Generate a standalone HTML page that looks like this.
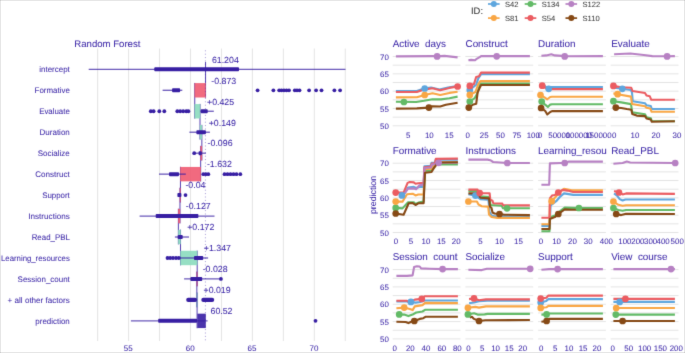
<!DOCTYPE html>
<html><head><meta charset="utf-8"><style>
html,body{margin:0;padding:0;background:#fff;}
body{width:685px;height:353px;overflow:hidden;}
svg{display:block;font-family:"Liberation Sans", sans-serif;}
text{stroke-width:0.05px;text-rendering:geometricPrecision;}
</style></head><body>
<svg width="685" height="353" viewBox="0 0 685 353">
<defs><filter id="bl" x="-2%" y="-2%" width="104%" height="104%" color-interpolation-filters="sRGB"><feConvolveMatrix order="3" kernelMatrix="0.0100 0.0800 0.0100 0.0800 0.6400 0.0800 0.0100 0.0800 0.0100" edgeMode="duplicate" preserveAlpha="true"/></filter></defs>
<rect width="685" height="353" fill="#fff"/>
<g filter="url(#bl)">
<rect width="685" height="353" fill="#fff"/>
<line x1="97.65" y1="48.5" x2="97.65" y2="341" stroke="#e4e4e4" stroke-width="1"/>
<line x1="128.60" y1="48.5" x2="128.60" y2="341" stroke="#e4e4e4" stroke-width="1"/>
<line x1="159.55" y1="48.5" x2="159.55" y2="341" stroke="#e4e4e4" stroke-width="1"/>
<line x1="190.50" y1="48.5" x2="190.50" y2="341" stroke="#e4e4e4" stroke-width="1"/>
<line x1="221.45" y1="48.5" x2="221.45" y2="341" stroke="#e4e4e4" stroke-width="1"/>
<line x1="252.40" y1="48.5" x2="252.40" y2="341" stroke="#e4e4e4" stroke-width="1"/>
<line x1="283.35" y1="48.5" x2="283.35" y2="341" stroke="#e4e4e4" stroke-width="1"/>
<line x1="314.30" y1="48.5" x2="314.30" y2="341" stroke="#e4e4e4" stroke-width="1"/>
<line x1="345.25" y1="48.5" x2="345.25" y2="341" stroke="#e4e4e4" stroke-width="1"/>
<text x="128.25" y="351.1" font-size="8" fill="#3d28a8" stroke="#3d28a8" text-anchor="middle">55</text>
<text x="190.15" y="351.1" font-size="8" fill="#3d28a8" stroke="#3d28a8" text-anchor="middle">60</text>
<text x="252.05" y="351.1" font-size="8" fill="#3d28a8" stroke="#3d28a8" text-anchor="middle">65</text>
<text x="313.95" y="351.1" font-size="8" fill="#3d28a8" stroke="#3d28a8" text-anchor="middle">70</text>
<text x="74.3" y="47" font-size="9.6" fill="#3d28a8" stroke="#3d28a8">Random Forest</text>
<text x="69.8" y="71.74" font-size="8.1" fill="#3d28a8" stroke="#3d28a8" text-anchor="end" textLength="30.56" lengthAdjust="spacingAndGlyphs">intercept</text>
<text x="69.8" y="92.78" font-size="8.1" fill="#3d28a8" stroke="#3d28a8" text-anchor="end" textLength="35.20" lengthAdjust="spacingAndGlyphs">Formative</text>
<text x="69.8" y="113.82" font-size="8.1" fill="#3d28a8" stroke="#3d28a8" text-anchor="end" textLength="30.67" lengthAdjust="spacingAndGlyphs">Evaluate</text>
<text x="69.8" y="134.86" font-size="8.1" fill="#3d28a8" stroke="#3d28a8" text-anchor="end" textLength="30.24" lengthAdjust="spacingAndGlyphs">Duration</text>
<text x="69.8" y="155.90" font-size="8.1" fill="#3d28a8" stroke="#3d28a8" text-anchor="end" textLength="32.02" lengthAdjust="spacingAndGlyphs">Socialize</text>
<text x="69.8" y="176.94" font-size="8.1" fill="#3d28a8" stroke="#3d28a8" text-anchor="end" textLength="34.57" lengthAdjust="spacingAndGlyphs">Construct</text>
<text x="69.8" y="197.98" font-size="8.1" fill="#3d28a8" stroke="#3d28a8" text-anchor="end" textLength="27.60" lengthAdjust="spacingAndGlyphs">Support</text>
<text x="69.8" y="219.02" font-size="8.1" fill="#3d28a8" stroke="#3d28a8" text-anchor="end" textLength="41.52" lengthAdjust="spacingAndGlyphs">Instructions</text>
<text x="69.8" y="240.06" font-size="8.1" fill="#3d28a8" stroke="#3d28a8" text-anchor="end" textLength="38.12" lengthAdjust="spacingAndGlyphs">Read_PBL</text>
<text x="69.8" y="261.10" font-size="8.1" fill="#3d28a8" stroke="#3d28a8" text-anchor="end" textLength="68.77" lengthAdjust="spacingAndGlyphs">Learning_resources</text>
<text x="69.8" y="282.14" font-size="8.1" fill="#3d28a8" stroke="#3d28a8" text-anchor="end" textLength="52.22" lengthAdjust="spacingAndGlyphs">Session_count</text>
<text x="69.8" y="303.18" font-size="8.1" fill="#3d28a8" stroke="#3d28a8" text-anchor="end" textLength="62.20" lengthAdjust="spacingAndGlyphs">+ all other factors</text>
<text x="69.8" y="324.22" font-size="8.1" fill="#3d28a8" stroke="#3d28a8" text-anchor="end" textLength="34.43" lengthAdjust="spacingAndGlyphs">prediction</text>
<line x1="205.56" y1="61.99" x2="205.56" y2="97.65" stroke="#371ea3" stroke-width="0.85"/>
<line x1="194.75" y1="82.95" x2="194.75" y2="118.61" stroke="#371ea3" stroke-width="0.85"/>
<line x1="200.01" y1="103.91" x2="200.01" y2="139.57" stroke="#371ea3" stroke-width="0.85"/>
<line x1="201.85" y1="124.87" x2="201.85" y2="160.53" stroke="#371ea3" stroke-width="0.85"/>
<line x1="200.67" y1="145.83" x2="200.67" y2="181.49" stroke="#371ea3" stroke-width="0.85"/>
<line x1="180.46" y1="166.79" x2="180.46" y2="202.45" stroke="#371ea3" stroke-width="0.85"/>
<line x1="179.97" y1="187.75" x2="179.97" y2="223.41" stroke="#371ea3" stroke-width="0.85"/>
<line x1="178.39" y1="208.71" x2="178.39" y2="244.37" stroke="#371ea3" stroke-width="0.85"/>
<line x1="180.52" y1="229.67" x2="180.52" y2="265.33" stroke="#371ea3" stroke-width="0.85"/>
<line x1="197.20" y1="250.63" x2="197.20" y2="286.29" stroke="#371ea3" stroke-width="0.85"/>
<line x1="196.85" y1="271.59" x2="196.85" y2="307.25" stroke="#371ea3" stroke-width="0.85"/>
<line x1="197.09" y1="292.55" x2="197.09" y2="328.21" stroke="#371ea3" stroke-width="0.85"/>
<rect x="194.50" y="83.10" width="11.31" height="14.4" fill="#f05a71" fill-opacity="0.9"/>
<rect x="194.50" y="104.06" width="5.76" height="14.4" fill="#8bdcbe" fill-opacity="0.9"/>
<rect x="199.76" y="125.02" width="2.34" height="14.4" fill="#8bdcbe" fill-opacity="0.9"/>
<rect x="200.42" y="145.98" width="1.69" height="14.4" fill="#f05a71" fill-opacity="0.9"/>
<rect x="180.21" y="166.94" width="20.70" height="14.4" fill="#f05a71" fill-opacity="0.9"/>
<rect x="179.72" y="187.90" width="1.00" height="14.4" fill="#f05a71" fill-opacity="0.9"/>
<rect x="178.14" y="208.86" width="2.07" height="14.4" fill="#f05a71" fill-opacity="0.9"/>
<rect x="178.14" y="229.82" width="2.63" height="14.4" fill="#8bdcbe" fill-opacity="0.9"/>
<rect x="180.27" y="250.78" width="17.18" height="14.4" fill="#8bdcbe" fill-opacity="0.9"/>
<rect x="196.60" y="271.74" width="0.85" height="14.4" fill="#f05a71" fill-opacity="0.9"/>
<rect x="196.60" y="292.70" width="0.74" height="14.4" fill="#8bdcbe" fill-opacity="0.9"/>
<rect x="197.34" y="313.66" width="8.47" height="14.4" fill="#371ea3" fill-opacity="0.9"/>
<line x1="205.41" y1="50.3" x2="205.41" y2="342" stroke="#371ea3" stroke-opacity="0.45" stroke-width="1" stroke-dasharray="1 2.4"/>
<text x="211.90" y="62.64" font-size="8.8" fill="#3d28a8" stroke="#3d28a8">61.204</text>
<text x="211.30" y="83.60" font-size="8.8" fill="#3d28a8" stroke="#3d28a8">-0.873</text>
<text x="207.00" y="104.56" font-size="8.8" fill="#3d28a8" stroke="#3d28a8">+0.425</text>
<text x="208.70" y="125.52" font-size="8.8" fill="#3d28a8" stroke="#3d28a8">+0.149</text>
<text x="207.60" y="146.48" font-size="8.8" fill="#3d28a8" stroke="#3d28a8">-0.096</text>
<text x="206.90" y="167.44" font-size="8.8" fill="#3d28a8" stroke="#3d28a8">-1.632</text>
<text x="185.40" y="188.40" font-size="8.8" fill="#3d28a8" stroke="#3d28a8">-0.04</text>
<text x="185.80" y="209.36" font-size="8.8" fill="#3d28a8" stroke="#3d28a8">-0.127</text>
<text x="187.20" y="230.32" font-size="8.8" fill="#3d28a8" stroke="#3d28a8">+0.172</text>
<text x="203.80" y="251.28" font-size="8.8" fill="#3d28a8" stroke="#3d28a8">+1.347</text>
<text x="202.70" y="272.24" font-size="8.8" fill="#3d28a8" stroke="#3d28a8">-0.028</text>
<text x="203.50" y="293.20" font-size="8.8" fill="#3d28a8" stroke="#3d28a8">+0.019</text>
<text x="210.50" y="314.16" font-size="8.8" fill="#3d28a8" stroke="#3d28a8">60.52</text>
<line x1="88.7" y1="69.34" x2="345.5" y2="69.34" stroke="#371ea3" stroke-opacity="0.75" stroke-width="1.3"/>
<rect x="154.3" y="67.34" width="84.70" height="4.0" rx="0.8" fill="#371ea3"/>
<line x1="162.6" y1="90.30" x2="182.3" y2="90.30" stroke="#371ea3" stroke-opacity="0.75" stroke-width="1.3"/>
<rect x="172.1" y="88.30" width="8.00" height="4.0" rx="0.8" fill="#371ea3"/>
<circle cx="257.6" cy="90.30" r="1.9" fill="#371ea3"/>
<circle cx="273.4" cy="90.30" r="1.9" fill="#371ea3"/>
<circle cx="279.2" cy="90.30" r="1.9" fill="#371ea3"/>
<circle cx="281.5" cy="90.30" r="1.9" fill="#371ea3"/>
<circle cx="284" cy="90.30" r="1.9" fill="#371ea3"/>
<circle cx="286.5" cy="90.30" r="1.9" fill="#371ea3"/>
<circle cx="289" cy="90.30" r="1.9" fill="#371ea3"/>
<circle cx="294.8" cy="90.30" r="1.9" fill="#371ea3"/>
<circle cx="297" cy="90.30" r="1.9" fill="#371ea3"/>
<circle cx="299.5" cy="90.30" r="1.9" fill="#371ea3"/>
<circle cx="309.1" cy="90.30" r="1.9" fill="#371ea3"/>
<circle cx="316.1" cy="90.30" r="1.9" fill="#371ea3"/>
<circle cx="321.5" cy="90.30" r="1.9" fill="#371ea3"/>
<circle cx="334.4" cy="90.30" r="1.9" fill="#371ea3"/>
<circle cx="340.1" cy="90.30" r="1.9" fill="#371ea3"/>
<line x1="200.5" y1="111.26" x2="213.8" y2="111.26" stroke="#371ea3" stroke-opacity="0.75" stroke-width="1.3"/>
<rect x="200.7" y="109.26" width="7.00" height="4.0" rx="0.8" fill="#371ea3"/>
<circle cx="150.8" cy="111.26" r="1.9" fill="#371ea3"/>
<circle cx="153.6" cy="111.26" r="1.9" fill="#371ea3"/>
<circle cx="159.3" cy="111.26" r="1.9" fill="#371ea3"/>
<circle cx="164.3" cy="111.26" r="1.9" fill="#371ea3"/>
<circle cx="177.3" cy="111.26" r="1.9" fill="#371ea3"/>
<circle cx="180.2" cy="111.26" r="1.9" fill="#371ea3"/>
<circle cx="183.2" cy="111.26" r="1.9" fill="#371ea3"/>
<circle cx="186.3" cy="111.26" r="1.9" fill="#371ea3"/>
<circle cx="188.4" cy="111.26" r="1.9" fill="#371ea3"/>
<line x1="189.4" y1="132.22" x2="209.9" y2="132.22" stroke="#371ea3" stroke-opacity="0.75" stroke-width="1.3"/>
<rect x="196.4" y="130.22" width="9.50" height="4.0" rx="0.8" fill="#371ea3"/>
<line x1="194.2" y1="153.18" x2="205.9" y2="153.18" stroke="#371ea3" stroke-opacity="0.75" stroke-width="1.3"/>
<rect x="198.6" y="151.18" width="3.20" height="4.0" rx="0.8" fill="#371ea3"/>
<circle cx="194.2" cy="153.18" r="1.9" fill="#371ea3"/>
<line x1="159.0" y1="174.14" x2="185.8" y2="174.14" stroke="#371ea3" stroke-opacity="0.75" stroke-width="1.3"/>
<rect x="169.0" y="172.14" width="10.00" height="4.0" rx="0.8" fill="#371ea3"/>
<circle cx="203.3" cy="174.14" r="1.9" fill="#371ea3"/>
<circle cx="205.8" cy="174.14" r="1.9" fill="#371ea3"/>
<circle cx="208.3" cy="174.14" r="1.9" fill="#371ea3"/>
<circle cx="224.5" cy="174.14" r="1.9" fill="#371ea3"/>
<circle cx="227.5" cy="174.14" r="1.9" fill="#371ea3"/>
<circle cx="230.5" cy="174.14" r="1.9" fill="#371ea3"/>
<circle cx="233.5" cy="174.14" r="1.9" fill="#371ea3"/>
<circle cx="236.5" cy="174.14" r="1.9" fill="#371ea3"/>
<circle cx="240.3" cy="174.14" r="1.9" fill="#371ea3"/>
<rect x="177.4" y="193.10" width="4.00" height="4.0" rx="0.8" fill="#371ea3"/>
<circle cx="185.5" cy="195.10" r="1.9" fill="#371ea3"/>
<line x1="139.6" y1="216.06" x2="214.5" y2="216.06" stroke="#371ea3" stroke-opacity="0.75" stroke-width="1.3"/>
<rect x="155.7" y="214.06" width="42.70" height="4.0" rx="0.8" fill="#371ea3"/>
<line x1="174.9" y1="237.02" x2="189.0" y2="237.02" stroke="#371ea3" stroke-opacity="0.75" stroke-width="1.3"/>
<rect x="177.7" y="235.02" width="5.00" height="4.0" rx="0.8" fill="#371ea3"/>
<line x1="179.8" y1="257.98" x2="208.1" y2="257.98" stroke="#371ea3" stroke-opacity="0.75" stroke-width="1.3"/>
<rect x="194.0" y="255.98" width="9.20" height="4.0" rx="0.8" fill="#371ea3"/>
<circle cx="167.5" cy="257.98" r="1.9" fill="#371ea3"/>
<circle cx="170.2" cy="257.98" r="1.9" fill="#371ea3"/>
<circle cx="173.0" cy="257.98" r="1.9" fill="#371ea3"/>
<circle cx="176.0" cy="257.98" r="1.9" fill="#371ea3"/>
<circle cx="178.8" cy="257.98" r="1.9" fill="#371ea3"/>
<line x1="184.1" y1="278.94" x2="219.5" y2="278.94" stroke="#371ea3" stroke-opacity="0.75" stroke-width="1.3"/>
<rect x="190.4" y="276.94" width="11.80" height="4.0" rx="0.8" fill="#371ea3"/>
<circle cx="220.9" cy="278.94" r="1.9" fill="#371ea3"/>
<rect x="186.2" y="297.80" width="10.9" height="4.2" rx="2" fill="#371ea3"/>
<rect x="201.3" y="297.80" width="12.9" height="4.2" rx="2" fill="#371ea3"/>
<line x1="130.9" y1="320.86" x2="207.6" y2="320.86" stroke="#371ea3" stroke-opacity="0.75" stroke-width="1.3"/>
<rect x="158.2" y="318.86" width="38.90" height="4.0" rx="0.8" fill="#371ea3"/>
<circle cx="315.5" cy="320.86" r="1.9" fill="#371ea3"/>
<text x="388.9" y="59.70" font-size="7.9" fill="#3d28a8" stroke="#3d28a8" text-anchor="end">70</text>
<text x="388.9" y="77.03" font-size="7.9" fill="#3d28a8" stroke="#3d28a8" text-anchor="end">65</text>
<text x="388.9" y="94.36" font-size="7.9" fill="#3d28a8" stroke="#3d28a8" text-anchor="end">60</text>
<text x="388.9" y="111.69" font-size="7.9" fill="#3d28a8" stroke="#3d28a8" text-anchor="end">55</text>
<text x="388.9" y="129.02" font-size="7.9" fill="#3d28a8" stroke="#3d28a8" text-anchor="end">50</text>
<line x1="392.7" y1="56.50" x2="460.5" y2="56.50" stroke="#e4e4e4" stroke-width="1"/>
<line x1="392.7" y1="65.17" x2="460.5" y2="65.17" stroke="#e4e4e4" stroke-width="1"/>
<line x1="392.7" y1="73.83" x2="460.5" y2="73.83" stroke="#e4e4e4" stroke-width="1"/>
<line x1="392.7" y1="82.50" x2="460.5" y2="82.50" stroke="#e4e4e4" stroke-width="1"/>
<line x1="392.7" y1="91.16" x2="460.5" y2="91.16" stroke="#e4e4e4" stroke-width="1"/>
<line x1="392.7" y1="99.83" x2="460.5" y2="99.83" stroke="#e4e4e4" stroke-width="1"/>
<line x1="392.7" y1="108.49" x2="460.5" y2="108.49" stroke="#e4e4e4" stroke-width="1"/>
<line x1="392.7" y1="117.16" x2="460.5" y2="117.16" stroke="#e4e4e4" stroke-width="1"/>
<line x1="392.7" y1="125.82" x2="460.5" y2="125.82" stroke="#e4e4e4" stroke-width="1"/>
<text x="392.7" y="47.0" font-size="9.9" fill="#3d28a8" stroke="#3d28a8" style="white-space:pre">Active  days</text>
<text x="408.2" y="138.40" font-size="7.9" fill="#3d28a8" stroke="#3d28a8" text-anchor="middle">5</text>
<text x="429.3" y="138.40" font-size="7.9" fill="#3d28a8" stroke="#3d28a8" text-anchor="middle">10</text>
<text x="449.2" y="138.40" font-size="7.9" fill="#3d28a8" stroke="#3d28a8" text-anchor="middle">15</text>
<line x1="465.4" y1="56.50" x2="533.1999999999999" y2="56.50" stroke="#e4e4e4" stroke-width="1"/>
<line x1="465.4" y1="65.17" x2="533.1999999999999" y2="65.17" stroke="#e4e4e4" stroke-width="1"/>
<line x1="465.4" y1="73.83" x2="533.1999999999999" y2="73.83" stroke="#e4e4e4" stroke-width="1"/>
<line x1="465.4" y1="82.50" x2="533.1999999999999" y2="82.50" stroke="#e4e4e4" stroke-width="1"/>
<line x1="465.4" y1="91.16" x2="533.1999999999999" y2="91.16" stroke="#e4e4e4" stroke-width="1"/>
<line x1="465.4" y1="99.83" x2="533.1999999999999" y2="99.83" stroke="#e4e4e4" stroke-width="1"/>
<line x1="465.4" y1="108.49" x2="533.1999999999999" y2="108.49" stroke="#e4e4e4" stroke-width="1"/>
<line x1="465.4" y1="117.16" x2="533.1999999999999" y2="117.16" stroke="#e4e4e4" stroke-width="1"/>
<line x1="465.4" y1="125.82" x2="533.1999999999999" y2="125.82" stroke="#e4e4e4" stroke-width="1"/>
<text x="465.5" y="47.0" font-size="9.9" fill="#3d28a8" stroke="#3d28a8" style="white-space:pre">Construct</text>
<text x="467.8" y="138.40" font-size="7.9" fill="#3d28a8" stroke="#3d28a8" text-anchor="middle">0</text>
<text x="484.2" y="138.40" font-size="7.9" fill="#3d28a8" stroke="#3d28a8" text-anchor="middle">25</text>
<text x="500.5" y="138.40" font-size="7.9" fill="#3d28a8" stroke="#3d28a8" text-anchor="middle">50</text>
<text x="516.8" y="138.40" font-size="7.9" fill="#3d28a8" stroke="#3d28a8" text-anchor="middle">75</text>
<text x="533.3" y="138.40" font-size="7.9" fill="#3d28a8" stroke="#3d28a8" text-anchor="middle">100</text>
<line x1="538.1" y1="56.50" x2="605.9" y2="56.50" stroke="#e4e4e4" stroke-width="1"/>
<line x1="538.1" y1="65.17" x2="605.9" y2="65.17" stroke="#e4e4e4" stroke-width="1"/>
<line x1="538.1" y1="73.83" x2="605.9" y2="73.83" stroke="#e4e4e4" stroke-width="1"/>
<line x1="538.1" y1="82.50" x2="605.9" y2="82.50" stroke="#e4e4e4" stroke-width="1"/>
<line x1="538.1" y1="91.16" x2="605.9" y2="91.16" stroke="#e4e4e4" stroke-width="1"/>
<line x1="538.1" y1="99.83" x2="605.9" y2="99.83" stroke="#e4e4e4" stroke-width="1"/>
<line x1="538.1" y1="108.49" x2="605.9" y2="108.49" stroke="#e4e4e4" stroke-width="1"/>
<line x1="538.1" y1="117.16" x2="605.9" y2="117.16" stroke="#e4e4e4" stroke-width="1"/>
<line x1="538.1" y1="125.82" x2="605.9" y2="125.82" stroke="#e4e4e4" stroke-width="1"/>
<text x="538.1" y="47.0" font-size="9.9" fill="#3d28a8" stroke="#3d28a8" style="white-space:pre">Duration</text>
<text x="540.0" y="138.40" font-size="7.9" fill="#3d28a8" stroke="#3d28a8" text-anchor="middle">0</text>
<text x="559.3" y="138.40" font-size="7.9" fill="#3d28a8" stroke="#3d28a8" text-anchor="middle">50000</text>
<text x="578.8" y="138.40" font-size="7.9" fill="#3d28a8" stroke="#3d28a8" text-anchor="middle">100000</text>
<text x="598.4" y="138.40" font-size="7.9" fill="#3d28a8" stroke="#3d28a8" text-anchor="middle">150000</text>
<line x1="610.7" y1="56.50" x2="678.5" y2="56.50" stroke="#e4e4e4" stroke-width="1"/>
<line x1="610.7" y1="65.17" x2="678.5" y2="65.17" stroke="#e4e4e4" stroke-width="1"/>
<line x1="610.7" y1="73.83" x2="678.5" y2="73.83" stroke="#e4e4e4" stroke-width="1"/>
<line x1="610.7" y1="82.50" x2="678.5" y2="82.50" stroke="#e4e4e4" stroke-width="1"/>
<line x1="610.7" y1="91.16" x2="678.5" y2="91.16" stroke="#e4e4e4" stroke-width="1"/>
<line x1="610.7" y1="99.83" x2="678.5" y2="99.83" stroke="#e4e4e4" stroke-width="1"/>
<line x1="610.7" y1="108.49" x2="678.5" y2="108.49" stroke="#e4e4e4" stroke-width="1"/>
<line x1="610.7" y1="117.16" x2="678.5" y2="117.16" stroke="#e4e4e4" stroke-width="1"/>
<line x1="610.7" y1="125.82" x2="678.5" y2="125.82" stroke="#e4e4e4" stroke-width="1"/>
<text x="611.2" y="47.0" font-size="9.9" fill="#3d28a8" stroke="#3d28a8" style="white-space:pre">Evaluate</text>
<text x="614.2" y="138.40" font-size="7.9" fill="#3d28a8" stroke="#3d28a8" text-anchor="middle">0</text>
<text x="635.0" y="138.40" font-size="7.9" fill="#3d28a8" stroke="#3d28a8" text-anchor="middle">10</text>
<text x="656.0" y="138.40" font-size="7.9" fill="#3d28a8" stroke="#3d28a8" text-anchor="middle">20</text>
<text x="677.0" y="138.40" font-size="7.9" fill="#3d28a8" stroke="#3d28a8" text-anchor="middle">30</text>
<text x="388.9" y="166.40" font-size="7.9" fill="#3d28a8" stroke="#3d28a8" text-anchor="end">70</text>
<text x="388.9" y="183.73" font-size="7.9" fill="#3d28a8" stroke="#3d28a8" text-anchor="end">65</text>
<text x="388.9" y="201.06" font-size="7.9" fill="#3d28a8" stroke="#3d28a8" text-anchor="end">60</text>
<text x="388.9" y="218.39" font-size="7.9" fill="#3d28a8" stroke="#3d28a8" text-anchor="end">55</text>
<text x="388.9" y="235.72" font-size="7.9" fill="#3d28a8" stroke="#3d28a8" text-anchor="end">50</text>
<line x1="392.7" y1="163.20" x2="460.5" y2="163.20" stroke="#e4e4e4" stroke-width="1"/>
<line x1="392.7" y1="171.86" x2="460.5" y2="171.86" stroke="#e4e4e4" stroke-width="1"/>
<line x1="392.7" y1="180.53" x2="460.5" y2="180.53" stroke="#e4e4e4" stroke-width="1"/>
<line x1="392.7" y1="189.19" x2="460.5" y2="189.19" stroke="#e4e4e4" stroke-width="1"/>
<line x1="392.7" y1="197.86" x2="460.5" y2="197.86" stroke="#e4e4e4" stroke-width="1"/>
<line x1="392.7" y1="206.52" x2="460.5" y2="206.52" stroke="#e4e4e4" stroke-width="1"/>
<line x1="392.7" y1="215.19" x2="460.5" y2="215.19" stroke="#e4e4e4" stroke-width="1"/>
<line x1="392.7" y1="223.85" x2="460.5" y2="223.85" stroke="#e4e4e4" stroke-width="1"/>
<line x1="392.7" y1="232.52" x2="460.5" y2="232.52" stroke="#e4e4e4" stroke-width="1"/>
<text x="392.7" y="153.6" font-size="9.9" fill="#3d28a8" stroke="#3d28a8" style="white-space:pre">Formative</text>
<text x="396.0" y="244.30" font-size="7.9" fill="#3d28a8" stroke="#3d28a8" text-anchor="middle">0</text>
<text x="410.9" y="244.30" font-size="7.9" fill="#3d28a8" stroke="#3d28a8" text-anchor="middle">5</text>
<text x="426.0" y="244.30" font-size="7.9" fill="#3d28a8" stroke="#3d28a8" text-anchor="middle">10</text>
<text x="441.3" y="244.30" font-size="7.9" fill="#3d28a8" stroke="#3d28a8" text-anchor="middle">15</text>
<text x="456.2" y="244.30" font-size="7.9" fill="#3d28a8" stroke="#3d28a8" text-anchor="middle">20</text>
<line x1="465.4" y1="163.20" x2="533.1999999999999" y2="163.20" stroke="#e4e4e4" stroke-width="1"/>
<line x1="465.4" y1="171.86" x2="533.1999999999999" y2="171.86" stroke="#e4e4e4" stroke-width="1"/>
<line x1="465.4" y1="180.53" x2="533.1999999999999" y2="180.53" stroke="#e4e4e4" stroke-width="1"/>
<line x1="465.4" y1="189.19" x2="533.1999999999999" y2="189.19" stroke="#e4e4e4" stroke-width="1"/>
<line x1="465.4" y1="197.86" x2="533.1999999999999" y2="197.86" stroke="#e4e4e4" stroke-width="1"/>
<line x1="465.4" y1="206.52" x2="533.1999999999999" y2="206.52" stroke="#e4e4e4" stroke-width="1"/>
<line x1="465.4" y1="215.19" x2="533.1999999999999" y2="215.19" stroke="#e4e4e4" stroke-width="1"/>
<line x1="465.4" y1="223.85" x2="533.1999999999999" y2="223.85" stroke="#e4e4e4" stroke-width="1"/>
<line x1="465.4" y1="232.52" x2="533.1999999999999" y2="232.52" stroke="#e4e4e4" stroke-width="1"/>
<text x="465.5" y="153.6" font-size="9.9" fill="#3d28a8" stroke="#3d28a8" style="white-space:pre">Instructions</text>
<text x="480.4" y="244.30" font-size="7.9" fill="#3d28a8" stroke="#3d28a8" text-anchor="middle">5</text>
<text x="499.4" y="244.30" font-size="7.9" fill="#3d28a8" stroke="#3d28a8" text-anchor="middle">10</text>
<text x="518.5" y="244.30" font-size="7.9" fill="#3d28a8" stroke="#3d28a8" text-anchor="middle">15</text>
<line x1="538.1" y1="163.20" x2="605.9" y2="163.20" stroke="#e4e4e4" stroke-width="1"/>
<line x1="538.1" y1="171.86" x2="605.9" y2="171.86" stroke="#e4e4e4" stroke-width="1"/>
<line x1="538.1" y1="180.53" x2="605.9" y2="180.53" stroke="#e4e4e4" stroke-width="1"/>
<line x1="538.1" y1="189.19" x2="605.9" y2="189.19" stroke="#e4e4e4" stroke-width="1"/>
<line x1="538.1" y1="197.86" x2="605.9" y2="197.86" stroke="#e4e4e4" stroke-width="1"/>
<line x1="538.1" y1="206.52" x2="605.9" y2="206.52" stroke="#e4e4e4" stroke-width="1"/>
<line x1="538.1" y1="215.19" x2="605.9" y2="215.19" stroke="#e4e4e4" stroke-width="1"/>
<line x1="538.1" y1="223.85" x2="605.9" y2="223.85" stroke="#e4e4e4" stroke-width="1"/>
<line x1="538.1" y1="232.52" x2="605.9" y2="232.52" stroke="#e4e4e4" stroke-width="1"/>
<text x="538.1" y="153.6" font-size="9.9" fill="#3d28a8" stroke="#3d28a8" style="white-space:pre">Learning_resou</text>
<text x="540.9" y="244.30" font-size="7.9" fill="#3d28a8" stroke="#3d28a8" text-anchor="middle">0</text>
<text x="556.6" y="244.30" font-size="7.9" fill="#3d28a8" stroke="#3d28a8" text-anchor="middle">10</text>
<text x="572.4" y="244.30" font-size="7.9" fill="#3d28a8" stroke="#3d28a8" text-anchor="middle">20</text>
<text x="588.2" y="244.30" font-size="7.9" fill="#3d28a8" stroke="#3d28a8" text-anchor="middle">30</text>
<text x="604.2" y="244.30" font-size="7.9" fill="#3d28a8" stroke="#3d28a8" text-anchor="middle">40</text>
<line x1="610.7" y1="163.20" x2="678.5" y2="163.20" stroke="#e4e4e4" stroke-width="1"/>
<line x1="610.7" y1="171.86" x2="678.5" y2="171.86" stroke="#e4e4e4" stroke-width="1"/>
<line x1="610.7" y1="180.53" x2="678.5" y2="180.53" stroke="#e4e4e4" stroke-width="1"/>
<line x1="610.7" y1="189.19" x2="678.5" y2="189.19" stroke="#e4e4e4" stroke-width="1"/>
<line x1="610.7" y1="197.86" x2="678.5" y2="197.86" stroke="#e4e4e4" stroke-width="1"/>
<line x1="610.7" y1="206.52" x2="678.5" y2="206.52" stroke="#e4e4e4" stroke-width="1"/>
<line x1="610.7" y1="215.19" x2="678.5" y2="215.19" stroke="#e4e4e4" stroke-width="1"/>
<line x1="610.7" y1="223.85" x2="678.5" y2="223.85" stroke="#e4e4e4" stroke-width="1"/>
<line x1="610.7" y1="232.52" x2="678.5" y2="232.52" stroke="#e4e4e4" stroke-width="1"/>
<text x="611.2" y="153.6" font-size="9.9" fill="#3d28a8" stroke="#3d28a8" style="white-space:pre">Read_PBL</text>
<text x="610.8" y="244.30" font-size="7.9" fill="#3d28a8" stroke="#3d28a8" text-anchor="middle">0</text>
<text x="624.9" y="244.30" font-size="7.9" fill="#3d28a8" stroke="#3d28a8" text-anchor="middle">100</text>
<text x="637.9" y="244.30" font-size="7.9" fill="#3d28a8" stroke="#3d28a8" text-anchor="middle">200</text>
<text x="650.6" y="244.30" font-size="7.9" fill="#3d28a8" stroke="#3d28a8" text-anchor="middle">300</text>
<text x="663.1" y="244.30" font-size="7.9" fill="#3d28a8" stroke="#3d28a8" text-anchor="middle">400</text>
<text x="677.2" y="244.30" font-size="7.9" fill="#3d28a8" stroke="#3d28a8" text-anchor="middle">500</text>
<text x="388.9" y="272.80" font-size="7.9" fill="#3d28a8" stroke="#3d28a8" text-anchor="end">70</text>
<text x="388.9" y="290.13" font-size="7.9" fill="#3d28a8" stroke="#3d28a8" text-anchor="end">65</text>
<text x="388.9" y="307.46" font-size="7.9" fill="#3d28a8" stroke="#3d28a8" text-anchor="end">60</text>
<text x="388.9" y="324.79" font-size="7.9" fill="#3d28a8" stroke="#3d28a8" text-anchor="end">55</text>
<text x="388.9" y="342.12" font-size="7.9" fill="#3d28a8" stroke="#3d28a8" text-anchor="end">50</text>
<line x1="392.7" y1="269.60" x2="460.5" y2="269.60" stroke="#e4e4e4" stroke-width="1"/>
<line x1="392.7" y1="278.27" x2="460.5" y2="278.27" stroke="#e4e4e4" stroke-width="1"/>
<line x1="392.7" y1="286.93" x2="460.5" y2="286.93" stroke="#e4e4e4" stroke-width="1"/>
<line x1="392.7" y1="295.60" x2="460.5" y2="295.60" stroke="#e4e4e4" stroke-width="1"/>
<line x1="392.7" y1="304.26" x2="460.5" y2="304.26" stroke="#e4e4e4" stroke-width="1"/>
<line x1="392.7" y1="312.93" x2="460.5" y2="312.93" stroke="#e4e4e4" stroke-width="1"/>
<line x1="392.7" y1="321.59" x2="460.5" y2="321.59" stroke="#e4e4e4" stroke-width="1"/>
<line x1="392.7" y1="330.25" x2="460.5" y2="330.25" stroke="#e4e4e4" stroke-width="1"/>
<line x1="392.7" y1="338.92" x2="460.5" y2="338.92" stroke="#e4e4e4" stroke-width="1"/>
<text x="392.7" y="260.3" font-size="9.9" fill="#3d28a8" stroke="#3d28a8" style="white-space:pre">Session  count</text>
<text x="394.6" y="351.10" font-size="7.9" fill="#3d28a8" stroke="#3d28a8" text-anchor="middle">0</text>
<text x="410.3" y="351.10" font-size="7.9" fill="#3d28a8" stroke="#3d28a8" text-anchor="middle">20</text>
<text x="426.0" y="351.10" font-size="7.9" fill="#3d28a8" stroke="#3d28a8" text-anchor="middle">40</text>
<text x="441.8" y="351.10" font-size="7.9" fill="#3d28a8" stroke="#3d28a8" text-anchor="middle">60</text>
<text x="457.3" y="351.10" font-size="7.9" fill="#3d28a8" stroke="#3d28a8" text-anchor="middle">80</text>
<line x1="465.4" y1="269.60" x2="533.1999999999999" y2="269.60" stroke="#e4e4e4" stroke-width="1"/>
<line x1="465.4" y1="278.27" x2="533.1999999999999" y2="278.27" stroke="#e4e4e4" stroke-width="1"/>
<line x1="465.4" y1="286.93" x2="533.1999999999999" y2="286.93" stroke="#e4e4e4" stroke-width="1"/>
<line x1="465.4" y1="295.60" x2="533.1999999999999" y2="295.60" stroke="#e4e4e4" stroke-width="1"/>
<line x1="465.4" y1="304.26" x2="533.1999999999999" y2="304.26" stroke="#e4e4e4" stroke-width="1"/>
<line x1="465.4" y1="312.93" x2="533.1999999999999" y2="312.93" stroke="#e4e4e4" stroke-width="1"/>
<line x1="465.4" y1="321.59" x2="533.1999999999999" y2="321.59" stroke="#e4e4e4" stroke-width="1"/>
<line x1="465.4" y1="330.25" x2="533.1999999999999" y2="330.25" stroke="#e4e4e4" stroke-width="1"/>
<line x1="465.4" y1="338.92" x2="533.1999999999999" y2="338.92" stroke="#e4e4e4" stroke-width="1"/>
<text x="465.5" y="260.3" font-size="9.9" fill="#3d28a8" stroke="#3d28a8" style="white-space:pre">Socialize</text>
<text x="468.5" y="351.10" font-size="7.9" fill="#3d28a8" stroke="#3d28a8" text-anchor="middle">0</text>
<text x="482.1" y="351.10" font-size="7.9" fill="#3d28a8" stroke="#3d28a8" text-anchor="middle">5</text>
<text x="495.6" y="351.10" font-size="7.9" fill="#3d28a8" stroke="#3d28a8" text-anchor="middle">10</text>
<text x="509.2" y="351.10" font-size="7.9" fill="#3d28a8" stroke="#3d28a8" text-anchor="middle">15</text>
<text x="522.7" y="351.10" font-size="7.9" fill="#3d28a8" stroke="#3d28a8" text-anchor="middle">20</text>
<line x1="538.1" y1="269.60" x2="605.9" y2="269.60" stroke="#e4e4e4" stroke-width="1"/>
<line x1="538.1" y1="278.27" x2="605.9" y2="278.27" stroke="#e4e4e4" stroke-width="1"/>
<line x1="538.1" y1="286.93" x2="605.9" y2="286.93" stroke="#e4e4e4" stroke-width="1"/>
<line x1="538.1" y1="295.60" x2="605.9" y2="295.60" stroke="#e4e4e4" stroke-width="1"/>
<line x1="538.1" y1="304.26" x2="605.9" y2="304.26" stroke="#e4e4e4" stroke-width="1"/>
<line x1="538.1" y1="312.93" x2="605.9" y2="312.93" stroke="#e4e4e4" stroke-width="1"/>
<line x1="538.1" y1="321.59" x2="605.9" y2="321.59" stroke="#e4e4e4" stroke-width="1"/>
<line x1="538.1" y1="330.25" x2="605.9" y2="330.25" stroke="#e4e4e4" stroke-width="1"/>
<line x1="538.1" y1="338.92" x2="605.9" y2="338.92" stroke="#e4e4e4" stroke-width="1"/>
<text x="538.1" y="260.3" font-size="9.9" fill="#3d28a8" stroke="#3d28a8" style="white-space:pre">Support</text>
<text x="541.1" y="351.10" font-size="7.9" fill="#3d28a8" stroke="#3d28a8" text-anchor="middle">0</text>
<text x="555.1" y="351.10" font-size="7.9" fill="#3d28a8" stroke="#3d28a8" text-anchor="middle">5</text>
<text x="569.0" y="351.10" font-size="7.9" fill="#3d28a8" stroke="#3d28a8" text-anchor="middle">10</text>
<text x="583.1" y="351.10" font-size="7.9" fill="#3d28a8" stroke="#3d28a8" text-anchor="middle">15</text>
<text x="597.0" y="351.10" font-size="7.9" fill="#3d28a8" stroke="#3d28a8" text-anchor="middle">20</text>
<line x1="610.7" y1="269.60" x2="678.5" y2="269.60" stroke="#e4e4e4" stroke-width="1"/>
<line x1="610.7" y1="278.27" x2="678.5" y2="278.27" stroke="#e4e4e4" stroke-width="1"/>
<line x1="610.7" y1="286.93" x2="678.5" y2="286.93" stroke="#e4e4e4" stroke-width="1"/>
<line x1="610.7" y1="295.60" x2="678.5" y2="295.60" stroke="#e4e4e4" stroke-width="1"/>
<line x1="610.7" y1="304.26" x2="678.5" y2="304.26" stroke="#e4e4e4" stroke-width="1"/>
<line x1="610.7" y1="312.93" x2="678.5" y2="312.93" stroke="#e4e4e4" stroke-width="1"/>
<line x1="610.7" y1="321.59" x2="678.5" y2="321.59" stroke="#e4e4e4" stroke-width="1"/>
<line x1="610.7" y1="330.25" x2="678.5" y2="330.25" stroke="#e4e4e4" stroke-width="1"/>
<line x1="610.7" y1="338.92" x2="678.5" y2="338.92" stroke="#e4e4e4" stroke-width="1"/>
<text x="611.2" y="260.3" font-size="9.9" fill="#3d28a8" stroke="#3d28a8" style="white-space:pre">View  course</text>
<text x="612.7" y="351.10" font-size="7.9" fill="#3d28a8" stroke="#3d28a8" text-anchor="middle">0</text>
<text x="628.7" y="351.10" font-size="7.9" fill="#3d28a8" stroke="#3d28a8" text-anchor="middle">50</text>
<text x="644.6" y="351.10" font-size="7.9" fill="#3d28a8" stroke="#3d28a8" text-anchor="middle">100</text>
<text x="660.4" y="351.10" font-size="7.9" fill="#3d28a8" stroke="#3d28a8" text-anchor="middle">150</text>
<text x="676.3" y="351.10" font-size="7.9" fill="#3d28a8" stroke="#3d28a8" text-anchor="middle">200</text>
<polyline points="395.9,101.7 416.2,102.0 424.0,100.8 432.5,99.2 441.0,99.4 449.4,98.2 457.6,96.6" fill="none" stroke="#62ba66" stroke-width="2.1" stroke-linejoin="round" stroke-linecap="butt"/>
<polyline points="395.9,91.0 416.9,91.0 424.0,88.5 431.0,87.5 439.5,89.6 448.0,87.5 457.0,86.0" fill="none" stroke="#5ea6de" stroke-width="2.1" stroke-linejoin="round" stroke-linecap="butt"/>
<polyline points="395.9,97.4 416.9,97.2 424.7,95.0 432.5,93.2 440.2,95.0 449.4,92.9 457.6,91.7" fill="none" stroke="#f9a644" stroke-width="2.1" stroke-linejoin="round" stroke-linecap="butt"/>
<polyline points="395.9,92.0 416.9,92.0 424.0,89.6 432.5,88.2 440.2,90.3 449.4,87.9 457.6,86.5" fill="none" stroke="#eb5c61" stroke-width="2.1" stroke-linejoin="round" stroke-linecap="butt"/>
<polyline points="395.9,56.4 432.5,56.1 437.1,56.3 444.5,55.9 457.6,57.4" fill="none" stroke="#b781c3" stroke-width="2.1" stroke-linejoin="round" stroke-linecap="butt"/>
<polyline points="395.9,108.6 416.9,108.4 428.9,107.6 432.5,106.2 440.2,106.5 445.9,104.8 457.6,102.7" fill="none" stroke="#864915" stroke-width="2.1" stroke-linejoin="round" stroke-linecap="butt"/>
<circle cx="403.9" cy="102.0" r="3.35" fill="#62ba66"/>
<circle cx="424.7" cy="88.5" r="3.35" fill="#5ea6de"/>
<circle cx="424.7" cy="95.0" r="3.35" fill="#f9a644"/>
<circle cx="457.6" cy="86.5" r="3.35" fill="#eb5c61"/>
<circle cx="437.1" cy="56.4" r="3.35" fill="#b781c3"/>
<circle cx="428.9" cy="107.6" r="3.35" fill="#864915"/>
<polyline points="469.8,101.5 474.7,98.1 476.9,94.2 479.0,87.3 480.6,83.5 529.9,83.5" fill="none" stroke="#62ba66" stroke-width="2.1" stroke-linejoin="round" stroke-linecap="butt"/>
<polyline points="469.8,89.9 476.2,84.7 478.3,78.3 481.1,74.1 529.9,74.1" fill="none" stroke="#5ea6de" stroke-width="2.1" stroke-linejoin="round" stroke-linecap="butt"/>
<polyline points="469.8,94.9 475.4,92.0 478.3,84.2 480.4,81.1 529.9,81.1" fill="none" stroke="#f9a644" stroke-width="2.1" stroke-linejoin="round" stroke-linecap="butt"/>
<polyline points="469.8,85.9 474.0,84.0 476.2,76.9 479.0,76.2 481.1,72.6 529.9,72.6" fill="none" stroke="#eb5c61" stroke-width="2.1" stroke-linejoin="round" stroke-linecap="butt"/>
<polyline points="468.4,60.3 471.2,59.9 475.0,60.3 476.2,59.2 479.7,57.1 481.1,56.1 529.9,56.1" fill="none" stroke="#b781c3" stroke-width="2.1" stroke-linejoin="round" stroke-linecap="butt"/>
<polyline points="468.8,107.6 472.6,104.8 476.2,103.8 477.6,92.7 479.7,87.8 481.1,85.0 529.9,85.0" fill="none" stroke="#864915" stroke-width="2.1" stroke-linejoin="round" stroke-linecap="butt"/>
<circle cx="469.8" cy="101.5" r="3.35" fill="#62ba66"/>
<circle cx="469.8" cy="89.9" r="3.35" fill="#5ea6de"/>
<circle cx="469.8" cy="94.9" r="3.35" fill="#f9a644"/>
<circle cx="469.8" cy="85.9" r="3.35" fill="#eb5c61"/>
<circle cx="496.7" cy="56.3" r="3.35" fill="#b781c3"/>
<circle cx="468.8" cy="107.6" r="3.35" fill="#864915"/>
<polyline points="541.7,101.6 545.1,104.6 547.9,106.9 550.2,104.6 552.0,104.3 602.9,104.3" fill="none" stroke="#62ba66" stroke-width="2.1" stroke-linejoin="round" stroke-linecap="butt"/>
<polyline points="542.5,83.5 547.0,88.3 548.7,88.8 551.0,87.1 602.9,87.1" fill="none" stroke="#5ea6de" stroke-width="2.1" stroke-linejoin="round" stroke-linecap="butt"/>
<polyline points="540.5,95.0 544.5,97.3 547.3,99.3 550.2,97.0 552.0,96.7 602.9,96.7" fill="none" stroke="#f9a644" stroke-width="2.1" stroke-linejoin="round" stroke-linecap="butt"/>
<polyline points="542.2,85.7 546.0,88.5 549.0,89.1 602.9,89.1" fill="none" stroke="#eb5c61" stroke-width="2.1" stroke-linejoin="round" stroke-linecap="butt"/>
<polyline points="541.4,55.7 546.3,55.4 551.3,54.2 554.8,55.4 561.9,55.9 564.7,56.3 602.9,56.1" fill="none" stroke="#b781c3" stroke-width="2.1" stroke-linejoin="round" stroke-linecap="butt"/>
<polyline points="541.1,108.0 545.1,110.8 547.3,114.5 550.2,112.0 552.0,111.1 602.9,111.1" fill="none" stroke="#864915" stroke-width="2.1" stroke-linejoin="round" stroke-linecap="butt"/>
<circle cx="541.7" cy="101.6" r="3.35" fill="#62ba66"/>
<circle cx="548.7" cy="88.8" r="3.35" fill="#5ea6de"/>
<circle cx="540.5" cy="95.0" r="3.35" fill="#f9a644"/>
<circle cx="542.2" cy="85.7" r="3.35" fill="#eb5c61"/>
<circle cx="564.7" cy="56.4" r="3.35" fill="#b781c3"/>
<circle cx="541.1" cy="108.0" r="3.35" fill="#864915"/>
<polyline points="613.4,101.2 621.2,102.4 631.0,104.1 632.2,112.3 645.0,114.2 646.5,117.3 650.8,118.2 651.8,121.0 674.9,121.3" fill="none" stroke="#62ba66" stroke-width="2.1" stroke-linejoin="round" stroke-linecap="butt"/>
<polyline points="614.1,87.8 622.3,88.8 631.0,90.0 632.0,92.5 632.7,101.2 645.0,103.2 646.5,105.3 650.8,106.0 651.8,109.0 674.9,109.0" fill="none" stroke="#5ea6de" stroke-width="2.1" stroke-linejoin="round" stroke-linecap="butt"/>
<polyline points="613.4,93.4 617.6,94.2 631.0,96.6 632.0,104.0 645.0,106.2 646.5,107.8 650.3,108.5 651.6,111.8 674.9,111.8" fill="none" stroke="#f9a644" stroke-width="2.1" stroke-linejoin="round" stroke-linecap="butt"/>
<polyline points="613.4,85.9 621.2,87.3 631.3,87.8 632.5,91.0 645.0,93.0 646.5,95.5 649.8,96.3 651.3,99.8 674.9,99.8" fill="none" stroke="#eb5c61" stroke-width="2.1" stroke-linejoin="round" stroke-linecap="butt"/>
<polyline points="614.1,54.2 630.3,53.5 643.8,55.0 652.3,56.1 667.1,56.3 674.9,56.1" fill="none" stroke="#b781c3" stroke-width="2.1" stroke-linejoin="round" stroke-linecap="butt"/>
<polyline points="615.8,107.6 621.2,108.0 626.8,109.0 631.3,109.7 632.3,114.0 636.7,115.6 645.0,116.1 646.5,118.5 650.8,119.6 651.8,121.7 674.9,121.3" fill="none" stroke="#864915" stroke-width="2.1" stroke-linejoin="round" stroke-linecap="butt"/>
<circle cx="613.4" cy="101.2" r="3.35" fill="#62ba66"/>
<circle cx="622.3" cy="88.8" r="3.35" fill="#5ea6de"/>
<circle cx="617.6" cy="94.2" r="3.35" fill="#f9a644"/>
<circle cx="613.4" cy="85.9" r="3.35" fill="#eb5c61"/>
<circle cx="667.1" cy="56.4" r="3.35" fill="#b781c3"/>
<circle cx="615.8" cy="107.6" r="3.35" fill="#864915"/>
<polyline points="395.7,207.9 402.5,208.4 408.1,202.2 413.8,202.2 415.5,204.0 419.5,202.2 423.6,201.6 424.8,171.0 431.5,170.5 433.0,167.5 436.0,165.0 438.5,164.4 457.9,164.4" fill="none" stroke="#62ba66" stroke-width="2.1" stroke-linejoin="round" stroke-linecap="butt"/>
<polyline points="401.9,195.4 404.7,193.1 408.1,187.5 413.8,186.9 416.1,188.0 419.5,186.9 423.6,186.9 424.4,166.3 430.5,165.8 431.5,162.9 435.0,162.5 435.7,159.8 457.9,159.8" fill="none" stroke="#5ea6de" stroke-width="2.1" stroke-linejoin="round" stroke-linecap="butt"/>
<polyline points="395.7,201.6 402.5,201.6 407.0,194.3 412.7,193.7 415.5,195.4 418.3,194.5 423.6,194.5 424.6,169.2 431.5,168.8 432.5,166.0 435.5,165.5 436.5,162.3 457.9,162.3" fill="none" stroke="#f9a644" stroke-width="2.1" stroke-linejoin="round" stroke-linecap="butt"/>
<polyline points="395.7,192.6 403.6,192.6 407.6,182.9 409.8,182.0 413.8,182.4 415.5,183.8 418.3,183.2 423.6,182.9 424.4,167.2 430.7,166.6 431.8,163.5 435.0,163.2 435.8,158.9 457.9,158.6" fill="none" stroke="#eb5c61" stroke-width="2.1" stroke-linejoin="round" stroke-linecap="butt"/>
<polyline points="404.7,193.1 408.1,188.6 413.8,188.4 416.1,189.2 419.5,185.2 423.6,184.6 424.6,168.0 431.0,167.5 432.0,164.6 435.5,164.0 436.5,162.8 457.9,162.8" fill="none" stroke="#b781c3" stroke-width="2.1" stroke-linejoin="round" stroke-linecap="butt"/>
<polyline points="395.7,213.5 403.6,214.7 408.7,203.3 412.7,203.1 415.5,205.0 418.3,203.3 423.6,203.1 425.0,172.7 431.5,172.0 433.2,169.2 435.7,165.6 436.8,163.5 438.5,162.5 457.9,162.3" fill="none" stroke="#864915" stroke-width="2.1" stroke-linejoin="round" stroke-linecap="butt"/>
<circle cx="395.7" cy="207.9" r="3.35" fill="#62ba66"/>
<circle cx="401.9" cy="195.4" r="3.35" fill="#5ea6de"/>
<circle cx="395.7" cy="201.6" r="3.35" fill="#f9a644"/>
<circle cx="395.7" cy="192.6" r="3.35" fill="#eb5c61"/>
<circle cx="438.6" cy="162.8" r="3.35" fill="#b781c3"/>
<circle cx="395.7" cy="213.5" r="3.35" fill="#864915"/>
<polyline points="468.4,191.0 476.9,191.0 480.0,196.2 489.6,197.0 490.4,205.0 501.6,205.8 503.0,208.2 529.9,208.2" fill="none" stroke="#62ba66" stroke-width="2.1" stroke-linejoin="round" stroke-linecap="butt"/>
<polyline points="468.4,194.2 475.4,195.6 480.4,199.1 488.5,199.8 489.5,212.0 491.5,215.5 493.8,216.3 529.9,216.5" fill="none" stroke="#5ea6de" stroke-width="2.1" stroke-linejoin="round" stroke-linecap="butt"/>
<polyline points="468.4,201.5 476.9,201.5 478.5,204.5 481.8,206.2 488.2,206.6 489.0,214.5 491.5,217.0 497.4,217.9 529.9,217.9" fill="none" stroke="#f9a644" stroke-width="2.1" stroke-linejoin="round" stroke-linecap="butt"/>
<polyline points="468.4,189.6 477.6,189.6 479.0,192.5 481.8,193.2 489.6,193.2 490.3,199.8 492.5,200.8 493.3,203.3 502.3,203.6 503.2,205.4 529.9,205.4" fill="none" stroke="#eb5c61" stroke-width="2.1" stroke-linejoin="round" stroke-linecap="butt"/>
<polyline points="468.4,159.6 487.5,159.6 490.3,160.2 493.1,162.0 507.3,163.0 529.9,163.0" fill="none" stroke="#b781c3" stroke-width="2.1" stroke-linejoin="round" stroke-linecap="butt"/>
<polyline points="468.4,193.4 476.9,193.4 480.4,197.7 489.0,198.4 490.0,206.5 491.5,208.0 492.5,212.5 494.5,213.5 499.5,214.0 504.5,214.7 529.9,215.1" fill="none" stroke="#864915" stroke-width="2.1" stroke-linejoin="round" stroke-linecap="butt"/>
<circle cx="507.0" cy="208.3" r="3.35" fill="#62ba66"/>
<circle cx="475.4" cy="195.6" r="3.35" fill="#5ea6de"/>
<circle cx="468.4" cy="201.5" r="3.35" fill="#f9a644"/>
<circle cx="479.7" cy="193.0" r="3.35" fill="#eb5c61"/>
<circle cx="507.3" cy="163.0" r="3.35" fill="#b781c3"/>
<circle cx="499.5" cy="214.0" r="3.35" fill="#864915"/>
<polyline points="541.4,231.3 549.5,231.3 549.9,217.5 554.8,215.4 558.3,213.3 560.5,210.8 564.7,207.6 578.9,208.0 602.9,208.0" fill="none" stroke="#62ba66" stroke-width="2.1" stroke-linejoin="round" stroke-linecap="butt"/>
<polyline points="541.4,226.0 549.5,226.0 550.6,205.5 556.2,201.2 559.8,197.0 564.0,193.4 573.2,194.9 602.9,194.9" fill="none" stroke="#5ea6de" stroke-width="2.1" stroke-linejoin="round" stroke-linecap="butt"/>
<polyline points="541.4,224.3 549.5,224.3 549.9,204.1 551.7,201.2 555.5,197.0 559.1,192.5 564.0,188.8 571.8,190.2 602.9,190.2" fill="none" stroke="#f9a644" stroke-width="2.1" stroke-linejoin="round" stroke-linecap="butt"/>
<polyline points="541.4,217.7 549.5,217.7 549.9,198.4 552.0,195.6 554.8,194.9 558.3,192.5 562.6,189.9 567.5,190.6 573.2,192.0 602.9,192.0" fill="none" stroke="#eb5c61" stroke-width="2.1" stroke-linejoin="round" stroke-linecap="butt"/>
<polyline points="541.4,184.7 549.2,184.7 549.9,163.4 561.9,163.0 564.7,163.0 569.0,161.6 602.9,161.6" fill="none" stroke="#b781c3" stroke-width="2.1" stroke-linejoin="round" stroke-linecap="butt"/>
<polyline points="541.4,229.0 549.5,229.0 549.9,218.9 554.8,217.1 558.3,214.0 561.2,211.8 564.7,209.4 571.8,209.7 602.9,209.7" fill="none" stroke="#864915" stroke-width="2.1" stroke-linejoin="round" stroke-linecap="butt"/>
<circle cx="578.9" cy="208.0" r="3.35" fill="#62ba66"/>
<circle cx="551.7" cy="201.2" r="3.35" fill="#f9a644"/>
<circle cx="558.3" cy="192.5" r="3.35" fill="#eb5c61"/>
<circle cx="564.7" cy="163.0" r="3.35" fill="#b781c3"/>
<circle cx="558.3" cy="214.0" r="3.35" fill="#864915"/>
<polyline points="613.4,208.0 618.3,210.0 622.6,210.8 626.1,210.0 674.9,210.0" fill="none" stroke="#62ba66" stroke-width="2.1" stroke-linejoin="round" stroke-linecap="butt"/>
<polyline points="614.1,193.4 617.6,196.3 619.7,199.1 622.6,200.5 625.4,199.5 674.9,199.5" fill="none" stroke="#5ea6de" stroke-width="2.1" stroke-linejoin="round" stroke-linecap="butt"/>
<polyline points="613.4,201.5 618.3,204.8 622.6,205.8 626.1,205.2 674.9,205.2" fill="none" stroke="#f9a644" stroke-width="2.1" stroke-linejoin="round" stroke-linecap="butt"/>
<polyline points="614.1,191.0 619.0,192.5 622.6,194.4 626.1,193.4 674.9,193.9" fill="none" stroke="#eb5c61" stroke-width="2.1" stroke-linejoin="round" stroke-linecap="butt"/>
<polyline points="613.4,163.7 622.6,163.0 626.8,161.6 630.3,162.5 674.9,163.0" fill="none" stroke="#b781c3" stroke-width="2.1" stroke-linejoin="round" stroke-linecap="butt"/>
<polyline points="616.2,214.0 621.2,215.1 626.1,213.7 674.9,214.0" fill="none" stroke="#864915" stroke-width="2.1" stroke-linejoin="round" stroke-linecap="butt"/>
<circle cx="613.4" cy="208.0" r="3.35" fill="#62ba66"/>
<circle cx="613.4" cy="201.5" r="3.35" fill="#f9a644"/>
<circle cx="619.0" cy="192.5" r="3.35" fill="#eb5c61"/>
<circle cx="675.2" cy="163.0" r="3.35" fill="#b781c3"/>
<circle cx="616.2" cy="214.0" r="3.35" fill="#864915"/>
<polyline points="396.4,314.4 404.2,314.6 408.4,316.1 412.6,314.6 416.2,312.5 422.5,311.5 425.4,309.7 457.9,309.7" fill="none" stroke="#62ba66" stroke-width="2.1" stroke-linejoin="round" stroke-linecap="butt"/>
<polyline points="396.4,301.5 407.0,301.5 410.9,301.9 415.5,302.6 420.0,302.0 424.7,300.5 457.9,300.5" fill="none" stroke="#5ea6de" stroke-width="2.1" stroke-linejoin="round" stroke-linecap="butt"/>
<polyline points="396.4,308.2 404.2,307.6 409.8,309.0 412.6,310.1 414.8,306.4 422.5,305.1 425.1,302.9 457.9,303.1" fill="none" stroke="#f9a644" stroke-width="2.1" stroke-linejoin="round" stroke-linecap="butt"/>
<polyline points="396.4,300.8 407.0,300.8 409.1,302.3 414.8,299.6 421.8,298.9 424.7,296.2 457.9,296.2" fill="none" stroke="#eb5c61" stroke-width="2.1" stroke-linejoin="round" stroke-linecap="butt"/>
<polyline points="396.4,275.9 407.0,275.9 412.6,275.4 414.1,267.0 416.9,266.2 419.7,266.5 421.1,268.4 429.6,268.7 442.6,269.1 457.9,269.1" fill="none" stroke="#b781c3" stroke-width="2.1" stroke-linejoin="round" stroke-linecap="butt"/>
<polyline points="396.4,321.7 405.6,322.0 408.4,323.1 411.2,321.7 414.3,321.0 419.7,318.9 423.3,318.2 425.4,316.8 457.9,316.8" fill="none" stroke="#864915" stroke-width="2.1" stroke-linejoin="round" stroke-linecap="butt"/>
<circle cx="399.2" cy="314.4" r="3.35" fill="#62ba66"/>
<circle cx="410.9" cy="301.9" r="3.35" fill="#5ea6de"/>
<circle cx="404.2" cy="307.6" r="3.35" fill="#f9a644"/>
<circle cx="421.8" cy="298.9" r="3.35" fill="#eb5c61"/>
<circle cx="442.6" cy="269.1" r="3.35" fill="#b781c3"/>
<circle cx="414.3" cy="321.0" r="3.35" fill="#864915"/>
<polyline points="467.9,314.4 474.0,313.2 477.6,314.6 484.6,314.4 487.5,313.9 529.9,313.9" fill="none" stroke="#62ba66" stroke-width="2.1" stroke-linejoin="round" stroke-linecap="butt"/>
<polyline points="469.1,303.2 474.0,302.5 479.0,301.2 487.5,300.8 529.9,300.8" fill="none" stroke="#5ea6de" stroke-width="2.1" stroke-linejoin="round" stroke-linecap="butt"/>
<polyline points="467.9,307.8 475.4,306.9 479.0,307.6 486.0,306.4 529.9,306.4" fill="none" stroke="#f9a644" stroke-width="2.1" stroke-linejoin="round" stroke-linecap="butt"/>
<polyline points="469.1,299.1 474.0,298.4 479.0,300.2 486.0,299.4 529.9,299.4" fill="none" stroke="#eb5c61" stroke-width="2.1" stroke-linejoin="round" stroke-linecap="butt"/>
<polyline points="468.4,269.8 481.8,270.1 486.8,268.8 529.9,268.8" fill="none" stroke="#b781c3" stroke-width="2.1" stroke-linejoin="round" stroke-linecap="butt"/>
<polyline points="469.8,317.5 471.9,316.8 474.0,318.9 479.0,321.0 485.3,320.3 529.9,320.0" fill="none" stroke="#864915" stroke-width="2.1" stroke-linejoin="round" stroke-linecap="butt"/>
<circle cx="467.9" cy="314.4" r="3.35" fill="#62ba66"/>
<circle cx="467.9" cy="307.8" r="3.35" fill="#f9a644"/>
<circle cx="474.0" cy="298.4" r="3.35" fill="#eb5c61"/>
<circle cx="530.2" cy="268.8" r="3.35" fill="#b781c3"/>
<circle cx="479.0" cy="321.0" r="3.35" fill="#864915"/>
<polyline points="541.4,314.6 546.6,314.4 549.2,313.5 602.9,313.5" fill="none" stroke="#62ba66" stroke-width="2.1" stroke-linejoin="round" stroke-linecap="butt"/>
<polyline points="540.7,302.4 546.3,300.9 548.4,299.1 602.9,299.1" fill="none" stroke="#5ea6de" stroke-width="2.1" stroke-linejoin="round" stroke-linecap="butt"/>
<polyline points="540.7,307.9 546.3,307.3 548.4,305.9 602.9,305.9" fill="none" stroke="#f9a644" stroke-width="2.1" stroke-linejoin="round" stroke-linecap="butt"/>
<polyline points="540.7,298.6 546.3,297.7 548.4,295.6 602.9,295.6" fill="none" stroke="#eb5c61" stroke-width="2.1" stroke-linejoin="round" stroke-linecap="butt"/>
<polyline points="541.4,269.8 549.2,269.1 557.6,269.1 602.9,269.1" fill="none" stroke="#b781c3" stroke-width="2.1" stroke-linejoin="round" stroke-linecap="butt"/>
<polyline points="541.4,321.7 546.6,321.0 549.2,318.9 602.9,318.9" fill="none" stroke="#864915" stroke-width="2.1" stroke-linejoin="round" stroke-linecap="butt"/>
<circle cx="546.6" cy="314.4" r="3.35" fill="#62ba66"/>
<circle cx="540.7" cy="302.4" r="3.35" fill="#5ea6de"/>
<circle cx="540.7" cy="307.9" r="3.35" fill="#f9a644"/>
<circle cx="540.7" cy="298.6" r="3.35" fill="#eb5c61"/>
<circle cx="557.6" cy="269.1" r="3.35" fill="#b781c3"/>
<circle cx="546.6" cy="321.0" r="3.35" fill="#864915"/>
<polyline points="613.4,314.6 674.9,314.6" fill="none" stroke="#62ba66" stroke-width="2.1" stroke-linejoin="round" stroke-linecap="butt"/>
<polyline points="613.4,301.9 674.9,301.9" fill="none" stroke="#5ea6de" stroke-width="2.1" stroke-linejoin="round" stroke-linecap="butt"/>
<polyline points="613.4,308.0 674.9,308.0" fill="none" stroke="#f9a644" stroke-width="2.1" stroke-linejoin="round" stroke-linecap="butt"/>
<polyline points="613.4,298.9 674.9,298.9" fill="none" stroke="#eb5c61" stroke-width="2.1" stroke-linejoin="round" stroke-linecap="butt"/>
<polyline points="613.4,269.1 674.9,269.1" fill="none" stroke="#b781c3" stroke-width="2.1" stroke-linejoin="round" stroke-linecap="butt"/>
<polyline points="613.4,321.0 674.9,321.0" fill="none" stroke="#864915" stroke-width="2.1" stroke-linejoin="round" stroke-linecap="butt"/>
<circle cx="615.8" cy="314.6" r="3.35" fill="#62ba66"/>
<circle cx="619.7" cy="301.9" r="3.35" fill="#5ea6de"/>
<circle cx="616.2" cy="308.0" r="3.35" fill="#f9a644"/>
<circle cx="625.4" cy="298.9" r="3.35" fill="#eb5c61"/>
<circle cx="671.0" cy="269.1" r="3.35" fill="#b781c3"/>
<circle cx="622.6" cy="321.0" r="3.35" fill="#864915"/>
<text x="471" y="14.4" font-size="9.4" fill="#333" stroke="#333">ID:</text>
<line x1="488.0" y1="4.0" x2="499.6" y2="4.0" stroke="#5ea6de" stroke-width="1.7"/>
<circle cx="493.8" cy="4.0" r="3" fill="#5ea6de"/>
<text x="505.0" y="6.7" font-size="7.6" fill="#3d3d3d" stroke="#3d3d3d">S42</text>
<line x1="524.7" y1="4.0" x2="536.3" y2="4.0" stroke="#62ba66" stroke-width="1.7"/>
<circle cx="530.5" cy="4.0" r="3" fill="#62ba66"/>
<text x="541.7" y="6.7" font-size="7.6" fill="#3d3d3d" stroke="#3d3d3d">S134</text>
<line x1="565.5" y1="4.0" x2="577.0999999999999" y2="4.0" stroke="#b781c3" stroke-width="1.7"/>
<circle cx="571.3" cy="4.0" r="3" fill="#b781c3"/>
<text x="582.5" y="6.7" font-size="7.6" fill="#3d3d3d" stroke="#3d3d3d">S122</text>
<line x1="488.0" y1="18.1" x2="499.6" y2="18.1" stroke="#f9a644" stroke-width="1.7"/>
<circle cx="493.8" cy="18.1" r="3" fill="#f9a644"/>
<text x="505.0" y="20.8" font-size="7.6" fill="#3d3d3d" stroke="#3d3d3d">S81</text>
<line x1="524.7" y1="18.1" x2="536.3" y2="18.1" stroke="#eb5c61" stroke-width="1.7"/>
<circle cx="530.5" cy="18.1" r="3" fill="#eb5c61"/>
<text x="541.7" y="20.8" font-size="7.6" fill="#3d3d3d" stroke="#3d3d3d">S54</text>
<line x1="565.5" y1="18.1" x2="577.0999999999999" y2="18.1" stroke="#864915" stroke-width="1.7"/>
<circle cx="571.3" cy="18.1" r="3" fill="#864915"/>
<text x="582.5" y="20.8" font-size="7.6" fill="#3d3d3d" stroke="#3d3d3d">S110</text>
<text transform="translate(375.6,195) rotate(-90)" font-size="8.8" fill="#3d28a8" stroke="#3d28a8" text-anchor="middle">prediction</text>
</g>
</svg>
</body></html>
